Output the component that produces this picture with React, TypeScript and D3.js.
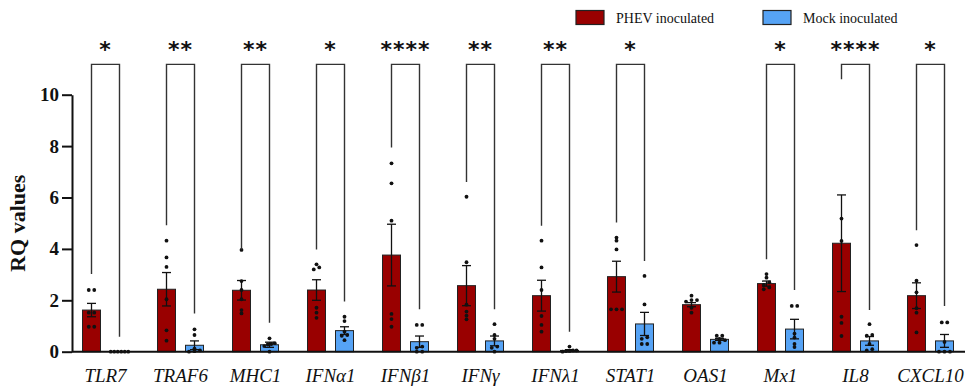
import { useEffect, useRef } from "react";
import * as d3 from "d3";

const genes = ["TLR7", "TRAF6", "MHC1", "IFNα1", "IFNβ1", "IFNγ", "IFNλ1", "STAT1", "OAS1", "Mx1", "IL8", "CXCL10"];
const groups = ["PHEV inoculated", "Mock inoculated"];

const phevMean = [1.62, 2.43, 2.39, 2.4, 3.76, 2.57, 2.18, 2.92, 1.83, 2.65, 4.22, 2.18];
const phevSem = [0.26, 0.65, 0.38, 0.4, 1.2, 0.78, 0.6, 0.6, 0.08, 0.1, 1.88, 0.5];
const mockMean = [0, 0.25, 0.27, 0.82, 0.39, 0.42, 0.05, 1.08, 0.48, 0.88, 0.42, 0.42];
const mockSem = [0, 0.17, 0.1, 0.15, 0.22, 0.19, 0.03, 0.45, 0.04, 0.38, 0.17, 0.25];

const phevPoints = [
  [2.4, 2.4, 1.52, 1.52, 0.97, 0.97],
  [4.32, 3.67, 3.3, 2.04, 0.83, 0.43],
  [3.96, 2.75, 2.4, 2.04, 1.62, 1.49],
  [3.4, 3.28, 3.2, 1.71, 1.52, 1.32],
  [7.33, 6.55, 5.1, 1.47, 1.27, 0.97],
  [6.03, 3.48, 1.83, 1.56, 1.4, 1.26],
  [4.32, 3.28, 2.4, 1.39, 1.04, 0.78],
  [4.44, 4.32, 3.98, 1.65, 1.65, 1.65],
  [2.18, 2.01, 2.01, 1.95, 1.71, 1.52],
  [3.02, 2.88, 2.7, 2.6, 2.5, 2.43],
  [12.7, 5.18, 4.31, 1.36, 1.12, 0.61],
  [4.15, 2.76, 2.31, 1.69, 1.52, 0.75],
];
const mockPoints = [
  [0, 0, 0, 0, 0, 0],
  [0.87, 0.65, 0.12, 0.05, 0.02, 0],
  [0.52, 0.33, 0.3, 0.28, 0.22, 0],
  [1.36, 1.19, 0.78, 0.65, 0.62, 0.45],
  [1.04, 1.04, 0.2, 0.15, 0, 0],
  [1.07, 0.65, 0.5, 0.2, 0.15, 0],
  [0.2, 0.05, 0.05, 0.03, 0.02, 0],
  [2.95, 1.84, 0.56, 0.5, 0.3, 0.3],
  [0.62, 0.62, 0.5, 0.45, 0.35, 0.35],
  [1.78, 1.78, 0.7, 0.55, 0.3, 0.18],
  [1.07, 0.65, 0.62, 0.3, 0.1, 0.05],
  [1.14, 1.14, 0.38, 0, 0, 0],
];

// significance brackets: stars + where each leg stops (RQ units)
const stars = ["*", "**", "**", "*", "****", "**", "**", "*", "", "*", "****", "*"];
const legLeft = [3.02, 4.92, 3.98, 3.98, 7.95, 6.6, 4.9, 5.03, 0, 3.6, 10.6, 4.73];
const legRight = [0.58, 1.49, 1.13, 1.95, 1.65, 1.65, 0.78, 3.53, 0, 2.4, 1.62, 1.78];
const bracketTop = 11.18;
const starLevel = 11.75;

const yTicks = [0, 2, 4, 6, 8, 10];

const W = 969;
const H = 386;
const RED = "#990000";
const BLUE = "#56a3f5";
const SERIF = "'Liberation Serif', 'Times New Roman', serif";

function jitter(vals: number[]) {
  // spread dots that share (nearly) the same value side by side
  const order = vals.map((v, i) => ({ v, i })).sort((a, b) => a.v - b.v);
  const offs = new Array(vals.length).fill(0);
  let k = 0;
  while (k < order.length) {
    let j = k;
    while (j + 1 < order.length && order[j + 1].v - order[k].v < 0.12) j++;
    const n = j - k + 1;
    const gap = n > 3 ? 3.5 : 5.5;
    for (let m = k; m <= j; m++) offs[order[m].i] = (m - k - (n - 1) / 2) * gap;
    k = j + 1;
  }
  return offs;
}

export default function App() {
  const svgRef = useRef<SVGSVGElement>(null);

  useEffect(() => {
    document.body.style.margin = "0";
    if (!svgRef.current) return;
    const svg = d3.select(svgRef.current);
    svg.selectAll("*").remove();

    const x0 = d3.scaleBand().domain(genes).range([68, 968]);
    const x1 = d3.scaleBand().domain(groups).range([14.5, 60.5]).paddingInner(10 / 28);
    const y = d3.scaleLinear().domain([0, 10]).range([351.7, 94.7]);

    const series = [
      { key: groups[0], mean: phevMean, sem: phevSem, pts: phevPoints, fill: RED },
      { key: groups[1], mean: mockMean, sem: mockSem, pts: mockPoints, fill: BLUE },
    ];
    const bw = x1.bandwidth();
    const cx = (g: number, s: string) => (x0(genes[g]) ?? 0) + (x1(s) ?? 0) + bw / 2;

    const plot = svg.append("g");

    series.forEach((s) => {
      genes.forEach((_, i) => {
        const xl = (x0(genes[i]) ?? 0) + (x1(s.key) ?? 0);
        plot
          .append("rect")
          .attr("x", xl)
          .attr("y", y(s.mean[i]))
          .attr("width", bw)
          .attr("height", y(0) - y(s.mean[i]))
          .attr("fill", s.fill)
          .attr("stroke", "#222")
          .attr("stroke-width", 1);
      });
    });

    // error bars (SEM)
    series.forEach((s) => {
      genes.forEach((_, i) => {
        if (s.sem[i] <= 0) return;
        const c = cx(i, s.key);
        const lo = y(Math.max(0, s.mean[i] - s.sem[i]));
        const hi = y(s.mean[i] + s.sem[i]);
        const g = plot.append("g").attr("stroke", "#111").attr("stroke-width", 1.3);
        g.append("line").attr("x1", c).attr("x2", c).attr("y1", lo).attr("y2", hi);
        [lo, hi].forEach((yy) =>
          g.append("line").attr("x1", c - 4.5).attr("x2", c + 4.5).attr("y1", yy).attr("y2", yy)
        );
      });
    });

    // individual points
    series.forEach((s) => {
      genes.forEach((_, i) => {
        const offs = jitter(s.pts[i]);
        const c = cx(i, s.key);
        s.pts[i].forEach((v, k) => {
          if (v > 10.3) return; // outside the axis range
          plot.append("circle").attr("cx", c + offs[k]).attr("cy", y(v)).attr("r", 1.9).attr("fill", "#111");
        });
      });
    });

    // brackets and stars
    genes.forEach((_, i) => {
      if (!stars[i]) return;
      const a = cx(i, groups[0]);
      const b = cx(i, groups[1]);
      const path = d3.path();
      path.moveTo(a, y(legLeft[i]));
      path.lineTo(a, y(bracketTop));
      path.lineTo(b, y(bracketTop));
      path.lineTo(b, y(legRight[i]));
      plot
        .append("path")
        .attr("d", path.toString())
        .attr("fill", "none")
        .attr("stroke", "#333")
        .attr("stroke-width", 1.4);
      plot
        .append("text")
        .attr("x", (a + b) / 2)
        .attr("y", y(starLevel))
        .attr("text-anchor", "middle")
        .attr("dominant-baseline", "central")
        .attr("font-family", "'DejaVu Sans', sans-serif")
        .attr("font-weight", "bold")
        .attr("font-size", 22)
        .attr("letter-spacing", 1)
        .attr("fill", "#111")
        .text(stars[i]);
    });

    // y axis
    const yAxis = svg
      .append("g")
      .attr("transform", "translate(72,0)")
      .call(d3.axisLeft(y).tickValues(yTicks).tickSize(10).tickPadding(3).tickSizeOuter(0));
    yAxis.select(".domain").attr("stroke", "#111").attr("stroke-width", 2);
    yAxis.selectAll("line").attr("stroke", "#111").attr("stroke-width", 2);
    yAxis
      .selectAll("text")
      .attr("fill", "#111")
      .attr("font-family", SERIF)
      .attr("font-weight", "bold")
      .attr("font-size", 19);

    // x axis baseline
    svg
      .append("line")
      .attr("x1", 72)
      .attr("x2", 965)
      .attr("y1", y(0))
      .attr("y2", y(0))
      .attr("stroke", "#111")
      .attr("stroke-width", 2);

    svg
      .append("g")
      .selectAll("text")
      .data(genes)
      .join("text")
      .attr("x", (d) => (x0(d) ?? 0) + x0.bandwidth() / 2)
      .attr("y", 381.5)
      .attr("text-anchor", "middle")
      .attr("font-family", SERIF)
      .attr("font-style", "italic")
      .attr("font-size", 19)
      .attr("fill", "#111")
      .text((d) => d);

    svg
      .append("text")
      .attr("transform", `translate(25,${y(5)}) rotate(-90)`)
      .attr("text-anchor", "middle")
      .attr("font-family", SERIF)
      .attr("font-weight", "bold")
      .attr("font-size", 22)
      .attr("fill", "#111")
      .text("RQ values");

    // legend
    const legX = [576, 763];
    series.forEach((s, i) => {
      const g = svg.append("g").attr("transform", `translate(${legX[i]},10.5)`);
      g.append("rect").attr("width", 28).attr("height", 14).attr("fill", s.fill).attr("stroke", "#222").attr("stroke-width", 1.2);
      g.append("text")
        .attr("x", 40)
        .attr("y", 12)
        .attr("font-family", SERIF)
        .attr("font-size", 14)
        .attr("fill", "#111")
        .text(s.key);
    });
  }, []);

  return <svg ref={svgRef} width={W} height={H} viewBox={`0 0 ${W} ${H}`} style={{ display: "block" }} />;
}
